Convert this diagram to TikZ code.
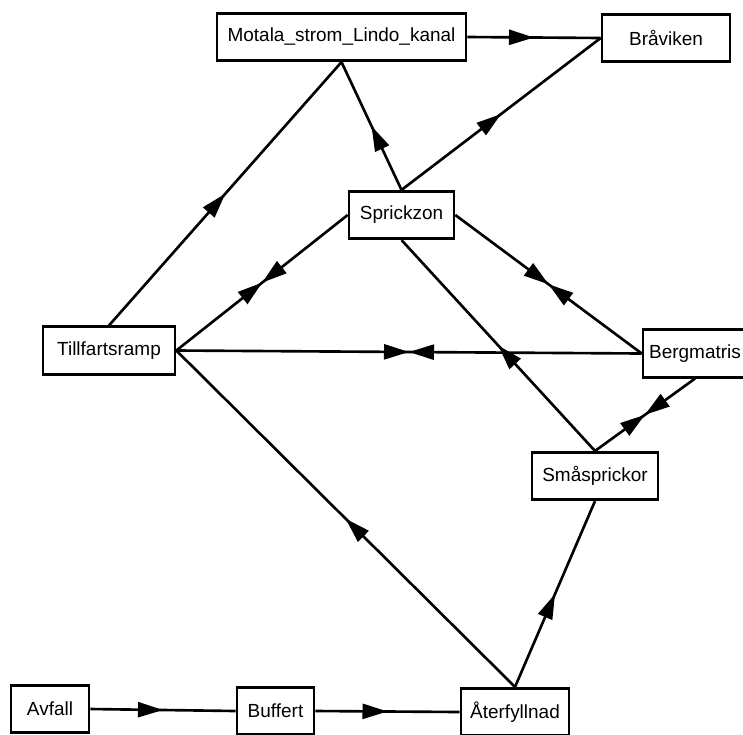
\documentclass[tikz,border=0pt]{standalone}
\usepackage{fontspec}
\setmainfont{Liberation Sans}
\usetikzlibrary{arrows.meta,decorations.markings}

\begin{document}
\begin{tikzpicture}[x=0.02cm,y=-0.02cm,line width=1.5pt,
                    font=\fontsize{10.8pt}{12pt}\selectfont]
  \tikzstyle{box}=[draw,rectangle,inner sep=0pt,minimum height=0.95cm]
  \tikzstyle{mid}=[postaction={decorate},decoration={markings,
      mark=at position 0.5 with {\arrow{Triangle[length=0.5cm,width=0.3cm]}}}]
  \tikzstyle{both}=[postaction={decorate},decoration={markings,
      mark=at position 0.5 with {\arrow{Triangle[length=0.5cm,width=0.3cm]}
        \arrowreversed{Triangle[length=0.5cm,width=0.3cm]}}}]
\useasboundingbox (0,0) rectangle (743,734);
\node [box,minimum width=4.98cm] (mo) at (341.5,37) {Motala\_strom\_Lindo\_kanal};
\node [box,minimum width=2.56cm] (br) at (666,38) {Bråviken};
\node [box,minimum width=2.10cm] (sz) at (401.5,215) {Sprickzon};
\node [box,minimum width=2.64cm] (tr) at (109,350.5) {Tillfartsramp};
\node [box,minimum width=2.08cm] (bm) at (695,353.5) {Bergmatris};
\node [box,minimum width=2.52cm] (sm) at (595,476) {Småsprickor};
\node [box,minimum width=1.56cm] (av) at (50,709) {Avfall};
\node [box,minimum width=1.54cm] (bu) at (275.5,711) {Buffert};
\node [box,minimum width=2.16cm] (af) at (515,712) {Återfyllnad};

\path (tr.north) edge [mid] (mo.south)
      (sz.north) edge [mid] (mo.south)
      (mo.east) edge [mid] (br.west)
      (sz.north) edge [mid] (br.west)
      (sz.west) edge [both] (tr.east)
      (sz.east) edge [both] (bm.west)
      (tr.east) edge [both] (bm.west)
      (sm.north) edge [mid] (sz.south)
      (sm.north) edge [both] (bm.south)
      (af.north) edge [mid] (tr.east)
      (af.north) edge [mid] (sm.south)
      (av.east) edge [mid] (bu.west)
      (bu.east) edge [mid] (af.west);

\end{tikzpicture}
\end{document}
